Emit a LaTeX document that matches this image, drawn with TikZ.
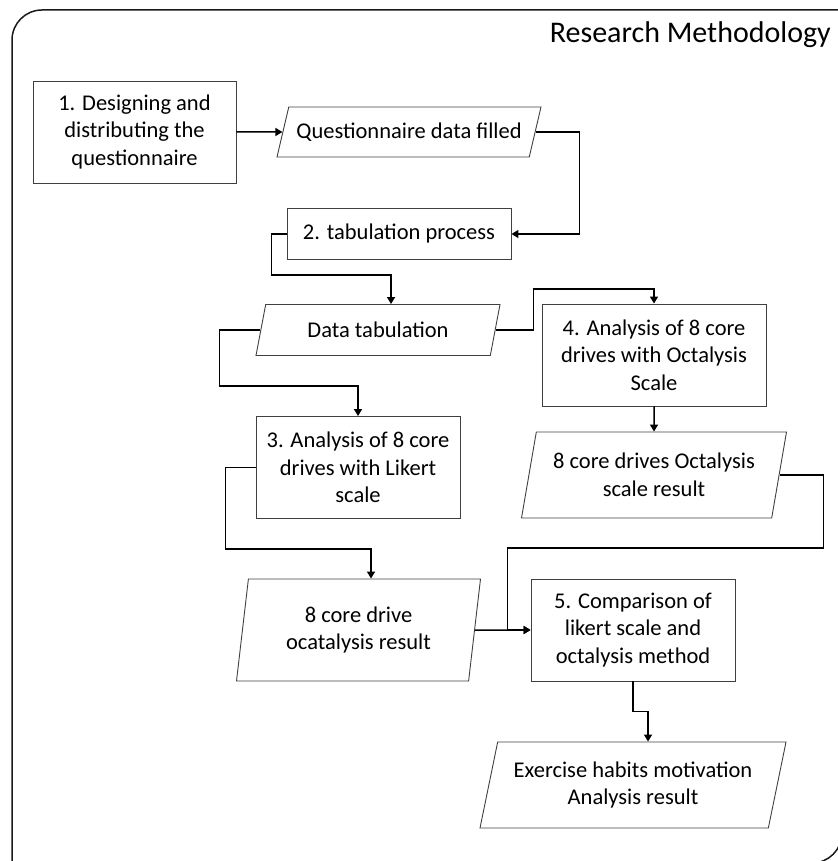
\documentclass[tikz,border=0pt]{standalone}
\usepackage{fontspec}
\setmainfont{Carlito}
\usetikzlibrary{arrows.meta,shapes.geometric}

\begin{document}
\begin{tikzpicture}[
 x=1pt,y=-1pt,
 every node/.style={font=\fontsize{22.5}{27.5}\selectfont,align=center,inner sep=2pt},
 proc/.style={rectangle,draw=black!75,line width=0.9pt},
 io/.style 2 args={trapezium,trapezium left angle=#1,trapezium right angle=#2,
                   trapezium stretches body,draw=black!75,line width=0.9pt},
 arrow/.style={-{Triangle[length=7pt,width=8pt]},line width=1.5pt,draw=black},
 frame/.style={line width=1.5pt,draw=black!90}
]
\useasboundingbox (0,0) rectangle (837,861);
\draw[frame,rounded corners=30] (12,866) -- (12,10) -- (842,10);
\draw[frame,rounded corners=30] (842,10) -- (842,863) -- (12,863);
\node[font=\fontsize{30}{34}\selectfont,anchor=base east] (title) at (833,43) {Research Methodology};
\node[proc,minimum width=203,minimum height=102] (design) at (134.5,132) {1. Designing and\\distributing the\\questionnaire};
\node[io={62.5}{117.5},minimum width=264,minimum height=50] (filled) at (409,132) {Questionnaire data filled};
\node[proc,minimum width=224,minimum height=51] (tabproc) at (399,234) {2. tabulation process};
\node[io={63.9}{116.1},minimum width=244,minimum height=51] (tabdata) at (378,330) {Data tabulation};
\node[proc,minimum width=224,minimum height=102] (octa) at (654,355) {4. Analysis of 8 core\\drives with Octalysis\\Scale};
\node[io={72.6}{107.4},minimum width=265,minimum height=86] (octres) at (654,475) {8 core drives Octalysis\\scale result};
\node[proc,minimum width=204,minimum height=102] (likert) at (358,467.5) {3. Analysis of 8 core\\drives with Likert\\scale};
\node[io={76.8}{103.2},minimum width=244,minimum height=102] (likres) at (358.5,630) {8 core drive\\ocatalysis result};
\node[proc,minimum width=204,minimum height=102] (compare) at (633,630) {5. Comparison of\\likert scale and\\octalysis method};
\node[io={70.8}{109.2},minimum width=306,minimum height=86] (final) at (633,785) {Exercise habits motivation\\Analysis result};
\draw[arrow] (design.east) -- (filled.west);
\draw[arrow] (filled.east) -- ++(44,0) |- (tabproc.east);
\draw[arrow] (tabproc.west) -- ++(-15,0) -- ++(0,41) -| ([xshift=13]tabdata.north);
\draw[arrow] (tabdata.east) -- ++(38,0) -- ++(0,-41) -| (octa.north);
\draw[arrow] (tabdata.west) -- ++(-41,0) -- ++(0,56) -| (likert.north);
\draw[arrow] (octa.south) -- (octres.north);
\draw[arrow] (likert.west) -- ++(-30,0) -- ++(0,81.5) -| ([xshift=12.5]likres.north);
\draw[arrow] (octres.east) -- ++(44,0) -- ++(0,73) -- ++(-316,0) |- (compare.west);
\draw[arrow] (likres.east) -- (compare.west);
\draw[arrow] (compare.south) -- ++(0,30) -| ([xshift=15]final.north);
\end{tikzpicture}
\end{document}
